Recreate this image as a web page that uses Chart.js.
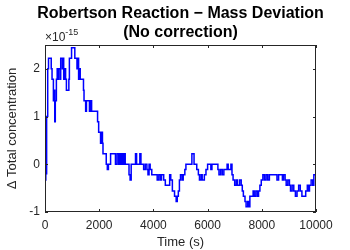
<!DOCTYPE html>
<html>
<head>
<meta charset="utf-8">
<script src="https://cdn.jsdelivr.net/npm/chart.js@4"></script>
<style>
  html, body { margin: 0; padding: 0; background: #fff; }
  #wrap { width: 350px; height: 250px; }
</style>
</head>
<body>
<div id="wrap"><canvas id="c" width="350" height="250"></canvas></div>
<script>
// time (s) and mass deviation (x 1e-15)
const times = [0, 30, 60, 100, 130, 200, 230, 260, 290, 310, 340, 360, 380, 420, 450, 480, 500, 540, 560, 580,
  620, 640, 660, 690, 720, 760, 790, 850, 880, 900, 960, 980, 1080, 1100, 1150, 1180, 1210, 1240, 1270, 1300,
  1380, 1420, 1440, 1480, 1500, 1530, 1600, 1640, 1680, 1720, 1900, 1940, 1980, 2020, 2050, 2080, 2120, 2140, 2200, 2260,
  2300, 2340, 2420, 2560, 2600, 2660, 2720, 2760, 2800, 2840, 2880, 2920, 2960, 3060, 3100, 3140, 3180, 3300, 3340, 3380,
  3480, 3500, 3540, 3600, 3640, 3700, 3760, 3800, 3840, 3880, 3940, 4100, 4140, 4200, 4260, 4300, 4380, 4440, 4560, 4600,
  4640, 4700, 4780, 4840, 4880, 4920, 4960, 5000, 5060, 5100, 5160, 5200, 5380, 5420, 5460, 5500, 5560, 5600, 5660, 5700,
  5760, 5800, 5880, 5940, 6000, 6080, 6120, 6160, 6340, 6380, 6420, 6480, 6540, 6600, 6680, 6720, 6760, 6820, 6860, 6900,
  6940, 7000, 7060, 7100, 7180, 7240, 7280, 7320, 7380, 7420, 7480, 7520, 7560, 7620, 7680, 7720, 7780, 7840, 7880, 7930,
  7980, 8040, 8100, 8160, 8220, 8280, 8350, 8500, 8560, 8620, 8700, 8760, 8800, 8860, 8900, 8960, 9020, 9060, 9120, 9180,
  9240, 9300, 9360, 9420, 9480, 9560, 9620, 9680, 9720, 9760, 9820, 9880, 9920, 10000];
const deviation = [-0.33, -0.2, 1.0, 2.0, 2.22, 2.22, 2.0, 1.78, 1.78, 1.33, 1.55, 0.89, 1.33, 1.78, 2.0, 1.78, 2.0, 2.0, 1.78, 2.22,
  2.22, 2.0, 2.22, 1.78, 2.0, 1.78, 1.55, 1.55, 1.78, 2.22, 2.22, 2.44, 2.44, 2.22, 2.22, 2.0, 2.22, 1.78, 2.0, 1.78,
  1.78, 1.55, 1.33, 1.33, 1.11, 1.33, 1.33, 1.11, 1.33, 1.11, 1.11, 0.89, 0.67, 0.67, 0.44, 0.67, 0.44, 0.22, 0.22, 0.0,
  -0.11, 0.0, 0.22, 0.22, 0.0, 0.22, 0.0, 0.22, 0.0, 0.22, 0.0, 0.22, 0.0, 0.0, -0.22, -0.33, 0.0, 0.0, 0.22, 0.0,
  0.0, 0.22, 0.0, 0.0, -0.11, 0.0, -0.11, -0.22, 0.0, -0.11, -0.22, -0.22, -0.33, -0.22, -0.33, -0.22, -0.33, -0.44, -0.44, -0.22,
  -0.33, -0.56, -0.67, -0.78, -0.67, -0.56, -0.33, -0.22, -0.33, -0.22, -0.11, 0.0, 0.0, 0.22, 0.22, 0.0, 0.0, -0.11, -0.22, -0.33,
  -0.22, -0.33, -0.22, -0.11, 0.0, 0.0, -0.11, 0.0, 0.0, -0.11, -0.22, -0.11, -0.22, -0.11, -0.11, 0.0, -0.11, -0.11, 0.0, -0.22,
  -0.33, -0.44, -0.33, -0.44, -0.33, -0.44, -0.56, -0.67, -0.78, -0.89, -0.78, -0.89, -0.67, -0.67, -0.56, -0.67, -0.56, -0.67, -0.56, -0.44,
  -0.33, -0.22, -0.33, -0.22, -0.33, -0.22, -0.22, -0.22, -0.33, -0.22, -0.22, -0.33, -0.22, -0.33, -0.44, -0.33, -0.44, -0.56, -0.44, -0.56,
  -0.67, -0.56, -0.44, -0.56, -0.67, -0.67, -0.56, -0.44, -0.56, -0.44, -0.33, -0.44, -0.22, -0.11];
const xTicks = [0, 2000, 4000, 6000, 8000, 10000];
const yTicks = [-1, 0, 1, 2];
const titleLines = ['Robertson Reaction \u2212 Mass Deviation', '(No correction)'];

const FONT = '"Liberation Sans", Arial, Helvetica, sans-serif';
const AX = '#262626';

// matlab-ish box: inward ticks, top/right edges, title, exponent
const matlabBox = {
  id: 'matlabBox',
  afterDraw(chart) {
    const ctx = chart.ctx;
    const a = chart.chartArea;
    const xs = chart.scales.x, ys = chart.scales.y;
    ctx.save();
    ctx.strokeStyle = AX;
    ctx.lineWidth = 1;
    ctx.strokeRect(a.left + 0.5, a.top + 0.5, a.right - a.left - 1, a.bottom - a.top - 1);
    const tl = 3;
    ctx.beginPath();
    xTicks.forEach(v => {
      const px = Math.round(xs.getPixelForValue(v)) + 0.5;
      ctx.moveTo(px, a.bottom); ctx.lineTo(px, a.bottom - tl);
      ctx.moveTo(px, a.top); ctx.lineTo(px, a.top + tl);
    });
    yTicks.forEach(v => {
      const py = Math.round(ys.getPixelForValue(v)) + 0.5;
      ctx.moveTo(a.left, py); ctx.lineTo(a.left + tl, py);
      ctx.moveTo(a.right, py); ctx.lineTo(a.right - tl, py);
    });
    ctx.stroke();

    // title
    const cx = (a.left + a.right) / 2;
    ctx.fillStyle = '#000';
    ctx.font = 'bold 16px ' + FONT;
    ctx.textAlign = 'center';
    ctx.textBaseline = 'alphabetic';
    ctx.fillText(titleLines[0], cx, 18);
    ctx.fillText(titleLines[1], cx, 37);

    // exponent label
    ctx.fillStyle = AX;
    ctx.textAlign = 'left';
    ctx.font = '12px ' + FONT;
    ctx.fillText('\u00d710', a.left, 41);
    const w = ctx.measureText('\u00d710').width;
    ctx.font = '9px ' + FONT;
    ctx.fillText('-15', a.left + w, 35);
    ctx.restore();
  }
};

new Chart(document.getElementById('c'), {
  type: 'line',
  data: {
    datasets: [{
      data: times.map((t, i) => ({ x: t, y: deviation[i] })),
      borderColor: '#0000ff',
      borderWidth: 1.5,
      pointRadius: 0,
      stepped: true,
      fill: false
    }]
  },
  options: {
    responsive: false,
    animation: false,
    events: [],
    layout: { padding: { top: 45, right: 34, left: 0, bottom: 0 } },
    plugins: { legend: { display: false }, tooltip: { enabled: false }, title: { display: false } },
    scales: {
      x: {
        type: 'linear',
        min: 0, max: 10000,
        afterBuildTicks: s => { s.ticks = xTicks.map(v => ({ value: v })); },
        afterFit: s => { s.height = 38; },
        ticks: { color: AX, font: { family: FONT, size: 12 }, padding: 6, maxRotation: 0, autoSkip: false,
          callback: v => String(v) },
        grid: { drawOnChartArea: false, drawTicks: false },
        border: { display: false },
        title: { display: true, text: 'Time (s)', color: AX, font: { family: FONT, size: 13 }, padding: { top: 1, bottom: 0 } }
      },
      y: {
        min: -1, max: 2.5,
        afterBuildTicks: s => { s.ticks = yTicks.map(v => ({ value: v })); },
        afterFit: s => { s.width = 45; },
        ticks: { color: AX, font: { family: FONT, size: 12 }, padding: 5, callback: v => String(v) },
        grid: { drawOnChartArea: false, drawTicks: false },
        border: { display: false },
        title: { display: true, text: '\u0394 Total concentration', color: AX, font: { family: FONT, size: 13 }, padding: { top: 5, bottom: 0 } }
      }
    }
  },
  plugins: [matlabBox]
});
</script>
</body>
</html>
